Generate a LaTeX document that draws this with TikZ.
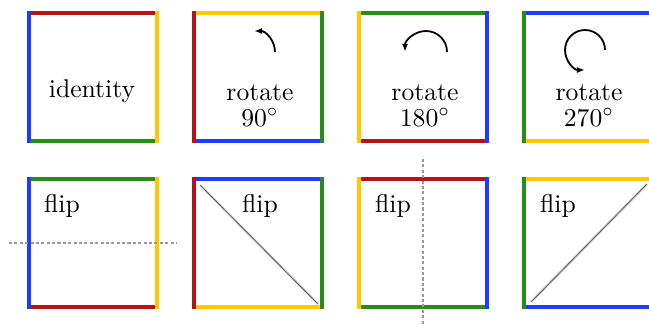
\documentclass[tikz,border=0pt]{standalone}
\usepackage{tikz}
\usetikzlibrary{arrows.meta}
\definecolor{edgered}{RGB}{180,20,25}
\definecolor{edgeyellow}{RGB}{255,200,0}
\definecolor{edgegreen}{RGB}{40,140,25}
\definecolor{edgeblue}{RGB}{30,60,255}

\begin{document}
\begin{tikzpicture}[x=0.39pt, y=0.39pt, >={Latex[length=3.2pt]},
  edge/.style={line width=1.6pt, line cap=rect},
  turn/.style={->, line width=0.7pt},
  axis/.style={gray!80, dash pattern=on 1.2pt off 0.9pt, line width=0.4pt},
  lbl/.style={anchor=base, align=center, inner sep=0pt}]
\useasboundingbox (0,0) rectangle (649,324);
\clip (0,0) rectangle (649,324);
% the eight squares: left x, bottom y, then top/right/bottom/left colours
\foreach \x/\y/\t/\r/\b/\l in {
  29/183/edgered/edgeyellow/edgegreen/edgeblue,
  194/183/edgeyellow/edgegreen/edgeblue/edgered,
  359/183/edgegreen/edgeblue/edgered/edgeyellow,
  524/183/edgeblue/edgered/edgeyellow/edgegreen,
  29/17/edgegreen/edgeyellow/edgered/edgeblue,
  194/17/edgeblue/edgegreen/edgeyellow/edgered,
  359/17/edgered/edgeblue/edgegreen/edgeyellow,
  524/17/edgeyellow/edgered/edgeblue/edgegreen}
{
  \draw[edge, \t] (\x,\y+128) -- (\x+128,\y+128);
  \draw[edge, \b] (\x,\y) -- (\x+128,\y);
  \draw[edge, \l] (\x,\y) -- (\x,\y+128);
  \draw[edge, \r] (\x+128,\y) -- (\x+128,\y+128);
}
% top row
\node[lbl] (id) at (92,227) {identity};
\node[lbl] (r90) at (260,198) {rotate\\[-2pt]$90^\circ$};
\node[lbl] (r180) at (425,198) {rotate\\[-2pt]$180^\circ$};
\node[lbl] (r270) at (589,198) {rotate\\[-2pt]$270^\circ$};
\draw[turn] (275,272) arc[start angle=0, end angle=90, radius=21];
\draw[turn] (447,272) arc[start angle=0, end angle=180, radius=21];
\draw[turn] (605,274) arc[start angle=0, end angle=270, radius=20];
% bottom row
\node[lbl] (f1) at (62,112) {flip};
\node[lbl] (f2) at (260,112) {flip};
\node[lbl] (f3) at (393,112) {flip};
\node[lbl] (f4) at (558,112) {flip};
\draw[axis] (9,81) -- (177,81);
\draw[axis] (423,165) -- (423,-5);
\draw[gray!35, line width=1pt] (200,139) -- (318,20);
\draw[black!70, line width=0.25pt] (200,139) -- (318,20);
\draw[gray!35, line width=1pt] (531,22) -- (647,140);
\draw[black!70, line width=0.25pt] (531,22) -- (647,140);
\end{tikzpicture}
\end{document}
